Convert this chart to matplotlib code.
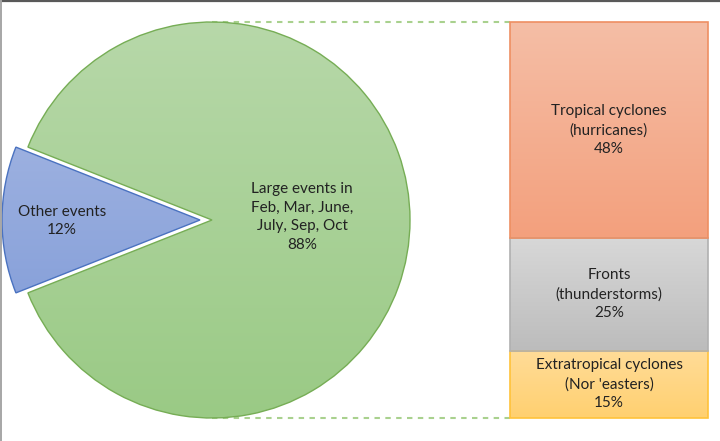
import numpy as np
import matplotlib
matplotlib.use("Agg")
import matplotlib.pyplot as plt
from matplotlib.colors import LinearSegmentedColormap
from matplotlib.lines import Line2D

plt.rcParams["font.family"] = ["Lato", "DejaVu Sans"]

# ── data ─────────────────────────────────────────────────────────────────────
pie_labels = ["Large events in\nFeb, Mar, June,\nJuly, Sep, Oct", "Other events"]
pie_values = [88, 12]

bar_labels = ["Extratropical cyclones\n(Nor 'easters)", "Fronts\n(thunderstorms)",
              "Tropical cyclones\n(hurricanes)"]
bar_values = [15, 25, 48]

pie_colors = [("#b7d8a9", "#9aca85"), ("#adbde5", "#7895d5")]
pie_edges = ["#76ad55", "#4a72c0"]
bar_colors = [("#ffdc98", "#ffd070"), ("#d8d8d8", "#bcbcbc"), ("#f5bea6", "#f3a07d")]
bar_edges = ["#ffc23a", "#b0b0b0", "#ee8f62"]

W, H = 720, 441
FS, LS = 11, 1.42
TXT = "#222222"

fig = plt.figure(figsize=(W / 100, H / 100), dpi=100)
fig.patch.set_facecolor("white")

# ── pie ──────────────────────────────────────────────────────────────────────
ax = fig.add_axes([0, 0, 1, 1])
cx, cy, R = 212, 221, 198
start = 180 + pie_values[1] / sum(pie_values) * 360 / 2
wedges, _ = ax.pie(pie_values, center=(cx, cy), radius=R, startangle=start,
                   explode=[0, 12], counterclock=True,
                   wedgeprops=dict(linewidth=1.0))
ax.set_xlim(0, W)
ax.set_ylim(0, H)
ax.set_aspect("equal")
ax.axis("off")


def gradient_fill(a, patch, top, bottom, extent, z):
    cmap = LinearSegmentedColormap.from_list("g", [bottom, top])
    grad = np.linspace(0, 1, 256).reshape(-1, 1)
    im = a.imshow(grad, cmap=cmap, extent=extent, origin="lower",
                  aspect="auto", zorder=z, interpolation="bilinear")
    im.set_clip_path(patch)


for w, (top, bot), ec in zip(wedges, pie_colors, pie_edges):
    w.set_facecolor("none")
    w.set_edgecolor(ec)
    w.set_zorder(3)
    wx, wy = w.center
    gradient_fill(ax, w, top, bot, (wx - R, wx + R, wy - R, wy + R), 2)

ax.set_xlim(0, W)
ax.set_ylim(0, H)

# connector lines
for yy in (cy + R, cy - R):
    ax.plot([cx, 510], [yy, yy], color="#a9d18e", lw=1.5,
            linestyle=(0, (2.6, 2.6)), zorder=1)

# pie labels
ax.text(302, 224, pie_labels[0] + f"\n{pie_values[0]}%", ha="center", va="center",
        fontsize=FS, color=TXT, linespacing=LS, zorder=5)
ax.text(62, 220, pie_labels[1] + f"\n{pie_values[1]}%", ha="center", va="center",
        fontsize=FS, color=TXT, linespacing=LS, zorder=5)

# frame lines
fig.add_artist(Line2D([0, 1], [0.998, 0.998], color="#595959", lw=1.6))
fig.add_artist(Line2D([0.001, 0.001], [0, 1], color="#a6a6a6", lw=1.4))

# ── stacked bar ──────────────────────────────────────────────────────────────
bx = fig.add_axes([510 / W, (H - 418) / H, 198 / W, 396 / H])
bx.set_xlim(-0.5, 0.5)
bx.set_ylim(0, sum(bar_values))
bx.axis("off")

bottom = 0
for lab, v, (top, bot), ec in zip(bar_labels, bar_values, bar_colors, bar_edges):
    b = bx.bar(0, v, width=1, bottom=bottom, facecolor="none", edgecolor=ec,
               linewidth=1.2, zorder=3)[0]
    b.set_clip_on(False)
    gradient_fill(bx, b, top, bot, (-0.5, 0.5, bottom, bottom + v), 2)
    bx.text(0, bottom + v / 2, f"{lab}\n{v}%", ha="center", va="center",
            fontsize=FS, color=TXT, linespacing=LS, zorder=5)
    bottom += v
bx.set_xlim(-0.5, 0.5)
bx.set_ylim(0, sum(bar_values))

fig.savefig("out.png", dpi=100)
